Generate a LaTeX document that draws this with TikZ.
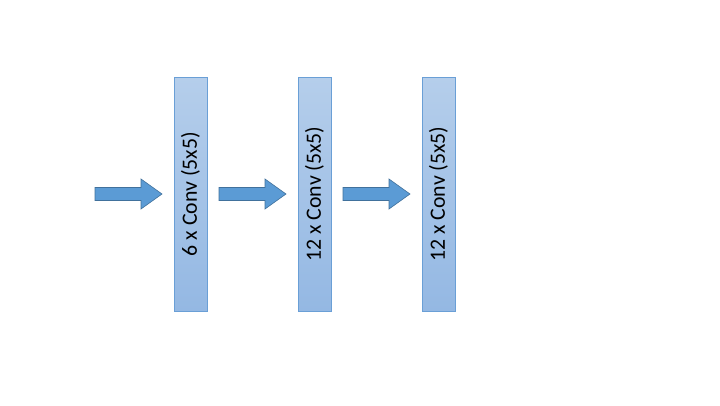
\documentclass[tikz,border=0pt]{standalone}
\usepackage{fontspec}
\setmainfont{Carlito}
\usetikzlibrary{shapes.arrows}
\begin{document}
\begin{tikzpicture}[x=1pt,y=-1pt,
  layer/.style={draw=layerline, line width=0.8pt, top color=layertop, bottom color=layerbot,
    minimum width=234pt, minimum height=33pt, inner sep=0pt, rotate=90,
    font=\fontsize{21.8}{24}\selectfont},
  blockarrow/.style={draw=arrowline, fill=arrowfill, line width=0.6pt}]
\definecolor{layerline}{HTML}{6A9FD6}
\definecolor{layertop}{HTML}{B5CEEB}
\definecolor{layerbot}{HTML}{94B8E3}
\definecolor{arrowfill}{HTML}{5B9BD5}
\definecolor{arrowline}{HTML}{41719C}
\useasboundingbox (0,0) rectangle (720,405);
\node[layer] (l1) at (190.5,194) {6 x Conv (5x5)};
\node[layer] (l2) at (314.5,194) {12 x Conv (5x5)};
\node[layer] (l3) at (438.5,194) {12 x Conv (5x5)};
\foreach \x/\n in {95/a1,219/a2,343/a3}{
  \coordinate (\n) at (\x,194);
  \draw[blockarrow] (\n) ++(0,-6.5) -- ++(46,0) -- ++(0,-8.5) -- ++(21,15) -- ++(-21,15) -- ++(0,-8.5) -- ++(-46,0) -- cycle;
}
\end{tikzpicture}
\end{document}
